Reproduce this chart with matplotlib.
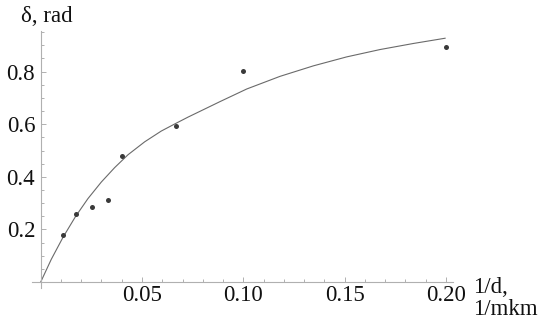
import matplotlib
matplotlib.use("Agg")
import matplotlib.pyplot as plt
from matplotlib.ticker import FixedLocator

# measured data points
inv_d = [0.0109, 0.0174, 0.0252, 0.0331, 0.0403, 0.0668, 0.1000, 0.1999]
delta = [0.180, 0.258, 0.285, 0.312, 0.479, 0.593, 0.803, 0.892]

# fitted curve
curve_x = [0.0, 0.0052, 0.0110, 0.0171, 0.0233, 0.0299, 0.0365, 0.0431,
           0.0513, 0.0595, 0.0669, 0.0727, 0.0786, 0.0885, 0.1017, 0.1181,
           0.1346, 0.1510, 0.1675, 0.1839, 0.1996]
curve_y = [0.0, 0.086, 0.170, 0.248, 0.317, 0.380, 0.435, 0.484,
           0.533, 0.574, 0.604, 0.627, 0.649, 0.686, 0.734, 0.782,
           0.822, 0.856, 0.884, 0.907, 0.927]

x_major = [0.05, 0.10, 0.15, 0.20]
x_labels = ["0.05", "0.10", "0.15", "0.20"]
y_major = [0.2, 0.4, 0.6, 0.8]
y_labels = ["0.2", "0.4", "0.6", "0.8"]

W, H = 539, 322
fig = plt.figure(figsize=(W / 100, H / 100), dpi=100)
ax = fig.add_axes([32 / W, 1 - 288 / H, (453 - 32) / W, (288 - 31) / H])
ax.set_xlim(-0.0043, 0.2035)
ax.set_ylim(-0.0228, 0.9545)

ax.plot(curve_x, curve_y, color="#6a6a6a", lw=0.8, solid_joinstyle="round")
ax.plot(inv_d, delta, "o", color="#3a3a3a", ms=3.6, mec="none")

for s in ["top", "right"]:
    ax.spines[s].set_visible(False)
ax.spines["left"].set_position(("data", 0))
ax.spines["bottom"].set_position(("data", 0))
for s in ["left", "bottom"]:
    ax.spines[s].set_color("#b0b0b0")
    ax.spines[s].set_linewidth(0.8)

ax.xaxis.set_major_locator(FixedLocator(x_major))
ax.set_xticklabels(x_labels)
ax.yaxis.set_major_locator(FixedLocator(y_major))
ax.set_yticklabels(y_labels)
ax.xaxis.set_minor_locator(FixedLocator([i * 0.01 for i in range(1, 21)]))
ax.yaxis.set_minor_locator(FixedLocator([i * 0.05 for i in range(1, 20)]))

font = ["Liberation Serif", "DejaVu Serif"]
fs = 16.5
ax.tick_params(which="both", direction="in", color="#b0b0b0", width=0.7)
ax.tick_params(which="major", length=3.8)
ax.tick_params(which="minor", length=2.0)
ax.tick_params(axis="x", which="major", pad=2, labelsize=fs)
ax.tick_params(axis="y", which="major", pad=4, labelsize=fs)
for lab in ax.get_xticklabels() + ax.get_yticklabels():
    lab.set_fontfamily(font)
    lab.set_color("#111111")

fig.text(47 / W, 1 - 16 / H, "δ, rad", family=font, fontsize=fs,
         ha="center", va="center", color="#111111")
fig.text(473 / W, 1 - 293 / H, "1/d,", family=font, fontsize=fs,
         ha="left", va="baseline", color="#111111")
fig.text(473 / W, 1 - 315 / H, "1/mkm", family=font, fontsize=fs,
         ha="left", va="baseline", color="#111111")

fig.savefig("out.png", dpi=100)
